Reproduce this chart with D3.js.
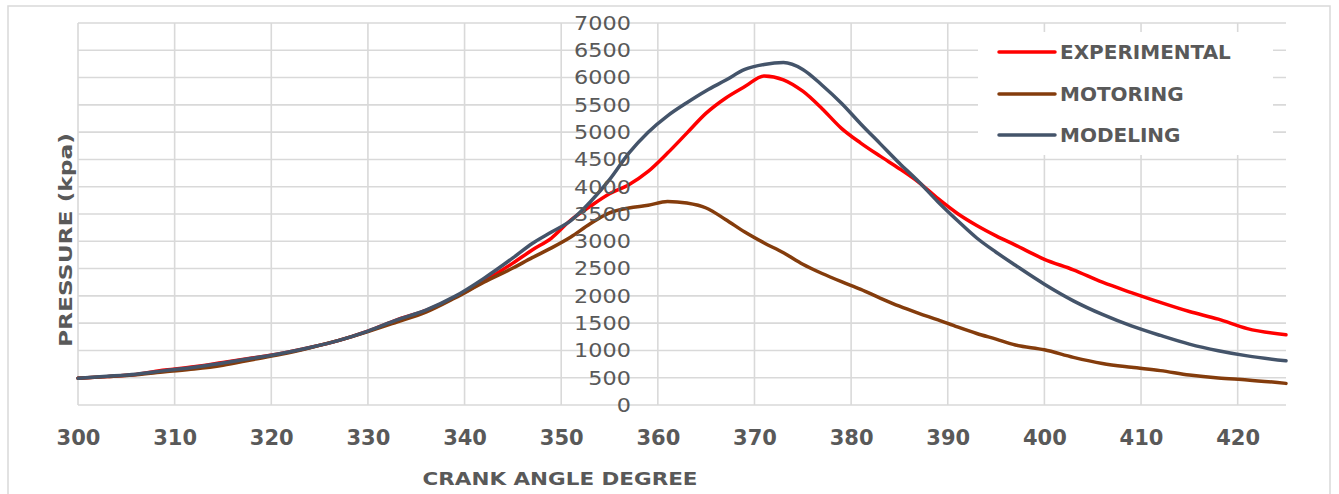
<!DOCTYPE html>
<html><head><meta charset="utf-8">
<script src="https://cdn.jsdelivr.net/npm/d3@7"></script>
<style>body{margin:0;background:#fff}svg{display:block}</style>
</head><body>
<svg id="c" width="1339" height="494"></svg>
<script>
const angles = [300,303,306,309,312,315,318,321,324,327,330,333,336,339,342,345,347,349,351,353,355,357,359,361,363,365,367,369,371,373,375,377,379,381,383,385,387,389,391,393,395,397,400,403,406,409,412,415,418,421,425];
const experimental = [490,520,560,640,700,780,860,945,1055,1185,1355,1560,1735,1975,2270,2600,2840,3060,3390,3640,3870,4037,4280,4616,4982,5348,5622,5835,6030,5960,5750,5430,5070,4800,4560,4330,4080,3780,3510,3290,3100,2930,2670,2476,2250,2060,1880,1713,1573,1400,1287];
const motoring = [490,520,555,610,660,730,830,930,1050,1185,1345,1520,1700,1960,2250,2510,2700,2880,3080,3320,3520,3610,3660,3730,3700,3610,3400,3170,2970,2790,2580,2410,2260,2120,1960,1810,1680,1560,1430,1310,1207,1100,1012,872,760,690,630,549,494,460,396];
const modeling = [490,525,565,630,690,770,855,945,1055,1185,1355,1560,1740,1990,2320,2695,2960,3170,3380,3720,4130,4616,5000,5300,5540,5760,5950,6150,6240,6275,6150,5860,5530,5150,4790,4430,4090,3720,3380,3060,2800,2560,2213,1909,1660,1450,1275,1116,994,900,811];
const seriesNames = ["EXPERIMENTAL","MOTORING","MODELING"];
const seriesColors = ["#FF0000","#843C0C","#44546A"];
const xTicks = [300,310,320,330,340,350,360,370,380,390,400,410,420];
const yTicks = [0,500,1000,1500,2000,2500,3000,3500,4000,4500,5000,5500,6000,6500,7000];
const xTitle = "CRANK ANGLE DEGREE";
const yTitle = "PRESSURE  (kpa)";

const svg = d3.select("#c");
const grid = "#d9d9d9", txt = "#595959";
svg.append("rect").attr("x",8).attr("y",6).attr("width",1322).attr("height",520)
  .attr("fill","#fff").attr("stroke",grid).attr("stroke-width",1.5);

const x = d3.scaleLinear().domain([300,425]).range([78,1286]);
const y = d3.scaleLinear().domain([0,7000]).range([405,23]);

const g = svg.append("g");
g.selectAll(".hg").data(yTicks).join("line")
  .attr("x1",x(300)).attr("x2",x(425)).attr("y1",d=>y(d)).attr("y2",d=>y(d))
  .attr("stroke",grid).attr("stroke-width",1.6);
g.selectAll(".vg").data(xTicks).join("line")
  .attr("x1",d=>x(d)).attr("x2",d=>x(d)).attr("y1",y(0)).attr("y2",y(7000))
  .attr("stroke",grid).attr("stroke-width",1.6);

const data = [experimental, motoring, modeling];
const line = d3.line().x((d,i)=>x(angles[i])).y(d=>y(d)).curve(d3.curveMonotoneX);
data.forEach((s,k)=>{
  svg.append("path").datum(s).attr("d",line).attr("fill","none")
    .attr("stroke",seriesColors[k]).attr("stroke-width",3.5)
    .attr("stroke-linejoin","round").attr("stroke-linecap","round");
});

// x axis labels
const xa = svg.append("g").attr("transform",`translate(0,${y(0)})`)
  .call(d3.axisBottom(x).tickValues(xTicks).tickSize(0).tickPadding(25).tickFormat(d3.format("d")));
xa.select(".domain").remove();
xa.selectAll("text").attr("fill",txt).attr("font-family","DejaVu Sans").attr("font-weight","bold").attr("font-size",21);

// y axis labels at x=360
const ya = svg.append("g").attr("transform",`translate(${x(360)},0)`)
  .call(d3.axisLeft(y).tickValues(yTicks).tickSize(0).tickPadding(27).tickFormat(d3.format("d")));
ya.select(".domain").remove();
ya.selectAll("text").attr("fill",txt).attr("font-family","DejaVu Sans").attr("font-size",20)
  .attr("textLength",d=>String(d).length*14.2).attr("lengthAdjust","spacingAndGlyphs");

// titles
svg.append("text").attr("x",560).attr("y",485).attr("text-anchor","middle")
  .attr("fill",txt).attr("font-family","DejaVu Sans").attr("font-weight","bold").attr("font-size",18)
  .attr("textLength",275).attr("lengthAdjust","spacingAndGlyphs").text(xTitle);
svg.append("text").attr("transform","translate(72,240) rotate(-90)").attr("text-anchor","middle")
  .attr("fill",txt).attr("font-family","DejaVu Sans").attr("font-weight","bold").attr("font-size",18)
  .attr("textLength",214).attr("lengthAdjust","spacingAndGlyphs").text(yTitle);

// legend
const lg = svg.append("g");
lg.append("rect").attr("x",978).attr("y",32).attr("width",295).attr("height",123).attr("fill","#fff");
const ly = [52,94,135];
seriesNames.forEach((n,k)=>{
  lg.append("line").attr("x1",999).attr("x2",1055).attr("y1",ly[k]).attr("y2",ly[k])
    .attr("stroke",seriesColors[k]).attr("stroke-width",3.5).attr("stroke-linecap","round");
  lg.append("text").attr("x",1060).attr("y",ly[k]).attr("dy","0.36em")
    .attr("fill",txt).attr("font-family","DejaVu Sans").attr("font-weight","bold").attr("font-size",20).text(n);
});
</script>
</body></html>
